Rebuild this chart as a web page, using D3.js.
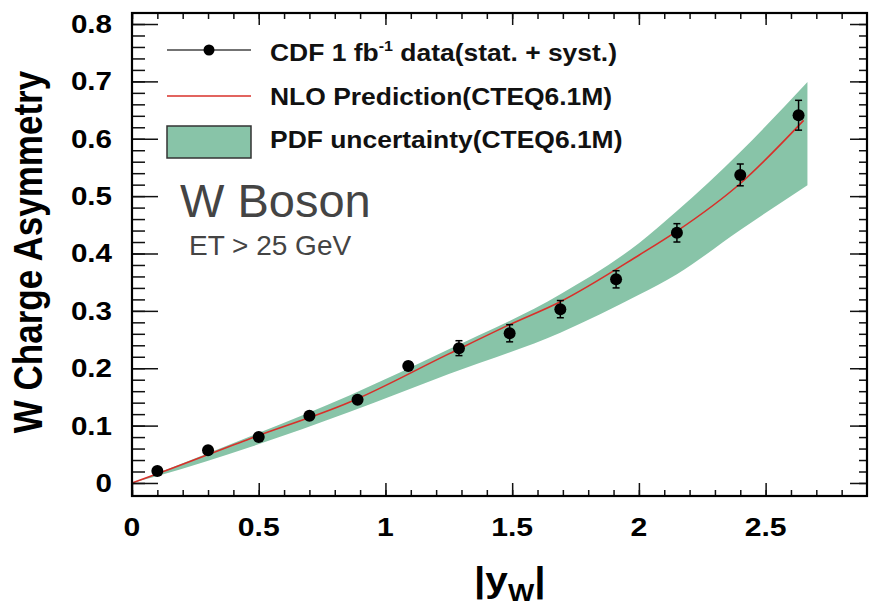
<!DOCTYPE html>
<html>
<head>
<meta charset="utf-8">
<script src="https://cdn.jsdelivr.net/npm/d3@7"></script>
<style>
  body { margin: 0; background: #fff; }
  text { font-family: "Liberation Sans", Arial, Helvetica, sans-serif; }
</style>
</head>
<body>
<div id="chart"></div>
<script>
// measured data points (|y_W|, asymmetry, error)
var rapidity = [0.10, 0.30, 0.50, 0.70, 0.89, 1.09, 1.29, 1.49, 1.69, 1.91, 2.15, 2.40, 2.63];
var asymmetry = [0.021, 0.057, 0.080, 0.117, 0.145, 0.204, 0.235, 0.261, 0.303, 0.355, 0.436, 0.537, 0.641];
var asymErr = [0.004, 0.004, 0.005, 0.005, 0.006, 0.007, 0.013, 0.015, 0.015, 0.015, 0.016, 0.019, 0.026];

// NLO prediction and PDF band
var nloX = [0, 0.10, 0.47, 0.86, 1.25, 1.49, 1.69, 2.00, 2.15, 2.40, 2.65];
var nloY = [0, 0.016, 0.078, 0.141, 0.225, 0.276, 0.316, 0.397, 0.439, 0.522, 0.632];
var bandX = [0, 0.10, 0.47, 0.86, 1.25, 1.69, 2.00, 2.15, 2.40, 2.665];
var bandLo = [0, 0.012, 0.063, 0.124, 0.190, 0.262, 0.328, 0.364, 0.441, 0.519];
var bandHi = [0, 0.017, 0.082, 0.153, 0.233, 0.329, 0.418, 0.474, 0.577, 0.699];

var xTicks = [0, 0.5, 1, 1.5, 2, 2.5];
var yTicks = [0, 0.1, 0.2, 0.3, 0.4, 0.5, 0.6, 0.7, 0.8];

var legendLabels = ["CDF 1 fb", "NLO Prediction(CTEQ6.1M)", "PDF uncertainty(CTEQ6.1M)"];

var W = 869, H = 606;
var margin = {top: 13, right: 2, bottom: 110, left: 132};
var width = W - margin.left - margin.right,
    height = H - margin.top - margin.bottom;

var bandColor = "#88c4a8";
var sx = 1.16; // the original plot text is a bit wide

var svg = d3.select("#chart").append("svg")
    .attr("width", W)
    .attr("height", H);

var g = svg.append("g")
    .attr("transform", "translate(" + margin.left + "," + margin.top + ")");

var x = d3.scaleLinear().domain([0, 2.9]).range([0, width]);
var y = d3.scaleLinear().domain([-0.0227, 0.8192]).range([height, 0]);

// PDF band
var bandData = bandX.map(function(d, i) { return {x: d, lo: bandLo[i], hi: bandHi[i]}; });
var area = d3.area()
    .x(function(d) { return x(d.x); })
    .y0(function(d) { return y(d.lo); })
    .y1(function(d) { return y(d.hi); })
    .curve(d3.curveMonotoneX);
g.append("path").datum(bandData)
    .attr("d", area)
    .attr("fill", bandColor);

// NLO line
var nloData = nloX.map(function(d, i) { return {x: d, y: nloY[i]}; });
var line = d3.line()
    .x(function(d) { return x(d.x); })
    .y(function(d) { return y(d.y); })
    .curve(d3.curveMonotoneX);
g.append("path").datum(nloData)
    .attr("d", line)
    .attr("fill", "none")
    .attr("stroke", "#d8302a")
    .attr("stroke-width", 1.6);

// data points with error bars
var pts = rapidity.map(function(d, i) { return {x: d, y: asymmetry[i], e: asymErr[i]}; });
var pg = g.selectAll(".pt").data(pts).enter().append("g").attr("class", "pt");
pg.append("line")
    .attr("x1", function(d) { return x(d.x); })
    .attr("x2", function(d) { return x(d.x); })
    .attr("y1", function(d) { return y(d.y - d.e); })
    .attr("y2", function(d) { return y(d.y + d.e); })
    .attr("stroke", "#000").attr("stroke-width", 1.5);
[-1, 1].forEach(function(s) {
  pg.append("line")
      .attr("x1", function(d) { return x(d.x) - 3.5; })
      .attr("x2", function(d) { return x(d.x) + 3.5; })
      .attr("y1", function(d) { return y(d.y + s * d.e); })
      .attr("y2", function(d) { return y(d.y + s * d.e); })
      .attr("stroke", "#000").attr("stroke-width", 1.5);
});
pg.append("circle")
    .attr("cx", function(d) { return x(d.x); })
    .attr("cy", function(d) { return y(d.y); })
    .attr("r", 6)
    .attr("fill", "#000");

// axes with ROOT style ticks
var xMinor = d3.range(0, 29).map(function(i) { return i / 10; });
var yMinor = d3.range(0, 41).map(function(i) { return i / 50; });

g.append("g").attr("transform", "translate(0," + height + ")")
    .call(d3.axisTop(x).tickValues(xMinor).tickSize(6).tickFormat(""));
g.append("g").attr("transform", "translate(0," + height + ")")
    .call(d3.axisTop(x).tickValues(xTicks).tickSize(13).tickFormat(""));
g.append("g")
    .call(d3.axisBottom(x).tickValues(xMinor).tickSize(6).tickFormat(""));
g.append("g")
    .call(d3.axisBottom(x).tickValues(xTicks).tickSize(12).tickFormat(""));

g.append("g")
    .call(d3.axisRight(y).tickValues(yMinor).tickSize(13).tickFormat(""));
g.append("g")
    .call(d3.axisRight(y).tickValues(yTicks).tickSize(26).tickFormat(""));
g.append("g").attr("transform", "translate(" + width + ",0)")
    .call(d3.axisLeft(y).tickValues(yMinor).tickSize(8).tickFormat(""));
g.append("g").attr("transform", "translate(" + width + ",0)")
    .call(d3.axisLeft(y).tickValues(yTicks).tickSize(17).tickFormat(""));

g.selectAll(".domain").remove();
g.selectAll(".tick line").attr("stroke", "#111").attr("stroke-width", 1.5);

// frame
g.append("rect")
    .attr("width", width).attr("height", height)
    .attr("fill", "none").attr("stroke", "#000").attr("stroke-width", 2.2);

// tick labels
g.selectAll(".xlab").data(xTicks).enter().append("text")
    .attr("transform", function(d) { return "translate(" + x(d) + "," + (height + 40) + ") scale(" + sx + ",1)"; })
    .attr("text-anchor", "middle")
    .attr("font-size", 26).attr("font-weight", "bold")
    .text(function(d) { return d; });
g.selectAll(".ylab").data(yTicks).enter().append("text")
    .attr("transform", function(d) { return "translate(-20," + (y(d) + 9) + ") scale(" + sx + ",1)"; })
    .attr("text-anchor", "end")
    .attr("font-size", 25.5).attr("font-weight", "bold")
    .text(function(d) { return d; });

// axis titles
var xt = svg.append("text")
    .attr("transform", "translate(474,592) scale(" + sx + ",1)")
    .attr("font-size", 35).attr("font-weight", "bold");
xt.append("tspan").text("|y");
xt.append("tspan").attr("font-size", 24).attr("dy", 9).text("W");
xt.append("tspan").attr("dy", -9).text("|");

svg.append("text")
    .attr("transform", "translate(42,252) scale(" + sx + ",1) rotate(-90)")
    .attr("text-anchor", "middle")
    .attr("font-size", 35).attr("font-weight", "bold")
    .text("W Charge Asymmetry");

// legend
var leg = svg.append("g");
leg.append("line").attr("x1", 167).attr("x2", 251).attr("y1", 50).attr("y2", 50)
    .attr("stroke", "#444").attr("stroke-width", 1.5);
leg.append("circle").attr("cx", 209).attr("cy", 50).attr("r", 5.5).attr("fill", "#000");
leg.append("line").attr("x1", 167).attr("x2", 251).attr("y1", 96).attr("y2", 96)
    .attr("stroke", "#d8302a").attr("stroke-width", 1.3);
leg.append("rect").attr("x", 167).attr("y", 126).attr("width", 84).attr("height", 32)
    .attr("fill", bandColor).attr("stroke", "#333").attr("stroke-width", 1.5);

var legFont = 23, legSx = 1.15;
var t0 = leg.append("text").attr("transform", "translate(270,61) scale(" + legSx + ",1)")
    .attr("font-size", legFont).attr("font-weight", "bold").attr("fill", "#111");
t0.append("tspan").text(legendLabels[0]);
t0.append("tspan").attr("font-size", 14).attr("dy", -10).text("-1");
t0.append("tspan").attr("dy", 10).text(" data(stat. + syst.)");
leg.append("text").attr("transform", "translate(270,105) scale(" + legSx + ",1)")
    .attr("font-size", legFont).attr("font-weight", "bold").attr("fill", "#111")
    .text(legendLabels[1]);
leg.append("text").attr("transform", "translate(270,148) scale(" + legSx + ",1)")
    .attr("font-size", legFont).attr("font-weight", "bold").attr("fill", "#111")
    .text(legendLabels[2]);

// annotation
svg.append("text").attr("x", 180).attr("y", 217)
    .attr("font-size", 47).attr("fill", "#444")
    .text("W Boson");
svg.append("text").attr("x", 189).attr("y", 255)
    .attr("font-size", 28).attr("fill", "#444")
    .text("ET > 25 GeV");
</script>
</body>
</html>
